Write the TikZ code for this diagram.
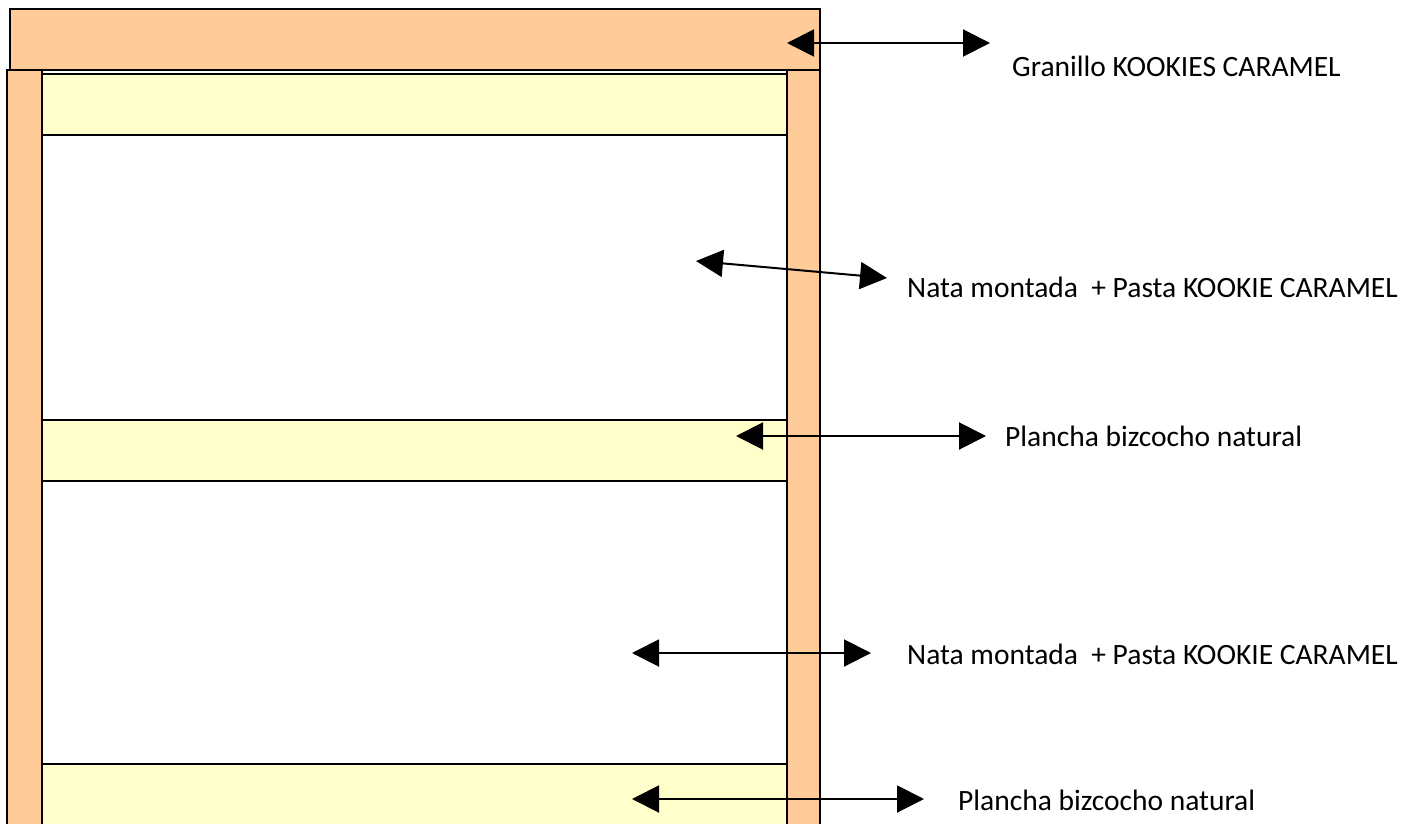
\documentclass[tikz,border=0pt]{standalone}
\usepackage{fontspec}
\setmainfont{Carlito}
\usetikzlibrary{arrows.meta}

\definecolor{crust}{HTML}{FFCC99}
\definecolor{sponge}{HTML}{FFFFCC}

\tikzset{
    layer/.style={draw, line width=2pt},
    pointer/.style={line width=2pt, {Triangle[length=27pt,width=27pt]}-{Triangle[length=27pt,width=27pt]}},
    caption/.style={anchor=base west, inner sep=0pt, font=\fontsize{29.5}{35}\selectfont}
}

\begin{document}
\begin{tikzpicture}[x=1pt, y=-1pt]
    \useasboundingbox (0,0) rectangle (1418,824);
    \begin{scope}
        \clip (0,0) rectangle (1418,824);
        % cake body
        \draw[layer, fill=white] (7,70) rectangle (820,900);
        \draw[layer, fill=crust] (10,9) rectangle (820,70);
        \draw[layer, fill=crust] (7,70) rectangle (42,900);
        \draw[layer, fill=crust] (787,70) rectangle (820,900);
        % sponge sheets
        \draw[layer, fill=sponge] (42,74) rectangle (787,135);
        \draw[layer, fill=sponge] (42,420) rectangle (787,481);
        \draw[layer, fill=sponge] (42,764) rectangle (787,900);
    \end{scope}

    % arrow ends
    \coordinate (granillo-in) at (787,43);
    \coordinate (granillo-out) at (990,43);
    \coordinate (nata1-in) at (696,261);
    \coordinate (nata1-out) at (887,278);
    \coordinate (plancha1-in) at (736,436);
    \coordinate (plancha1-out) at (986,436);
    \coordinate (nata2-in) at (632,653);
    \coordinate (nata2-out) at (871,653);
    \coordinate (plancha2-in) at (632,799);
    \coordinate (plancha2-out) at (924,799);

    % labels
    \node[caption] (granillo) at (1012,77) {Granillo KOOKIES CARAMEL};
    \node[caption] (nata1) at (907,297) {Nata montada\ \ + Pasta KOOKIE CARAMEL};
    \node[caption] (plancha1) at (1005,446) {Plancha bizcocho natural};
    \node[caption] (nata2) at (907,664) {Nata montada\ \ + Pasta KOOKIE CARAMEL};
    \node[caption] (plancha2) at (958,810) {Plancha bizcocho natural};

    \draw[pointer] (granillo-in) -- (granillo-out);
    \draw[pointer] (nata1-in) -- (nata1-out);
    \draw[pointer] (plancha1-in) -- (plancha1-out);
    \draw[pointer] (nata2-in) -- (nata2-out);
    \draw[pointer] (plancha2-in) -- (plancha2-out);
\end{tikzpicture}
\end{document}
